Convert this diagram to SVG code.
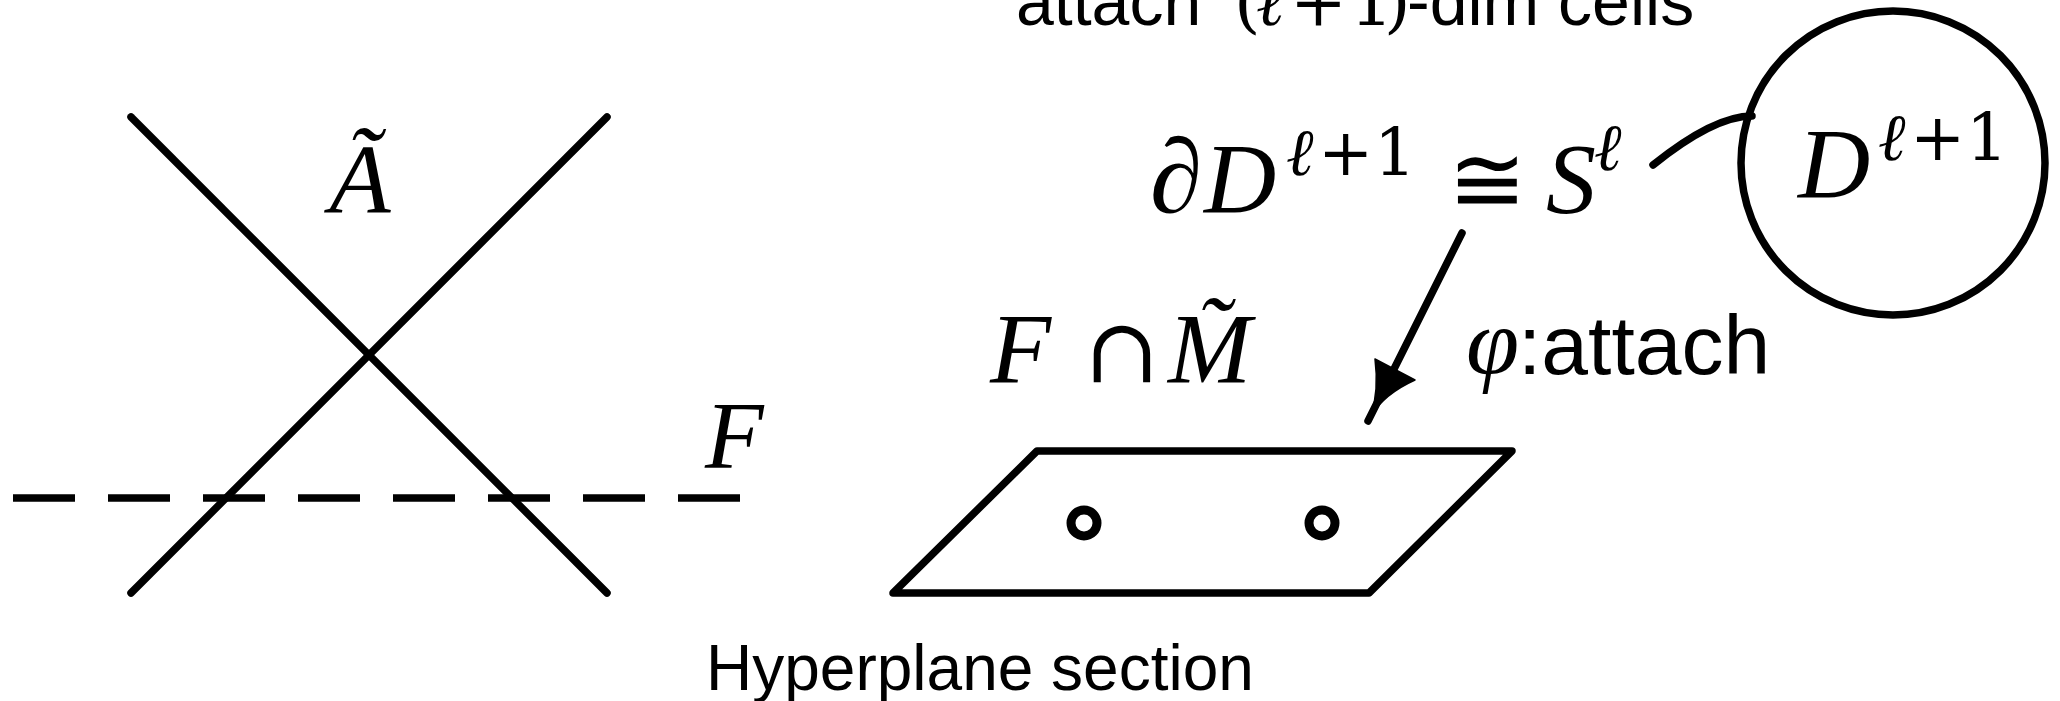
<svg xmlns="http://www.w3.org/2000/svg" width="2060" height="701" viewBox="0 0 2060 701">
<style>
.ln{stroke:#000;stroke-width:7.5;fill:none;stroke-linecap:round;stroke-linejoin:round}
.m{font-family:"Liberation Serif","DejaVu Serif",serif;font-style:italic;fill:#000}
.r{font-family:"DejaVu Serif","Liberation Serif",serif;font-style:normal;fill:#000}
.s{font-family:"Liberation Sans","DejaVu Sans",sans-serif;fill:#000}
.hole{fill:none;stroke:#000;stroke-width:9}
</style>
<rect width="2060" height="701" fill="#fff"/>
<g id="arrangement">
<line class="ln" x1="131" y1="117" x2="607" y2="593"/>
<line class="ln" x1="607" y1="117" x2="131" y2="593"/>
<text class="m" x="360" y="213" font-size="100" text-anchor="middle">Ã</text>
</g>
<g id="hyperplane-F">
<line x1="13" y1="498" x2="745" y2="498" stroke="#000" stroke-width="7.5" stroke-dasharray="62 33"/>
<text class="m" x="705" y="468" font-size="96">F</text>
</g>
<g id="section">
<polygon class="ln" points="1037,451 1512,451 1369,593 893,593"/>
<circle class="hole" cx="1084" cy="523" r="13"/>
<circle class="hole" cx="1322" cy="523" r="13"/>
<text font-size="100" y="382"><tspan class="m" x="990">F</tspan><tspan class="r" x="1084" font-size="90">∩</tspan><tspan class="m" x="1168">M̃</tspan></text>
<text class="s" x="706" y="690" font-size="64">Hyperplane section</text>
</g>
<g id="boundary-sphere">
<text font-size="100" y="212"><tspan class="m" x="1150" font-size="106">∂</tspan><tspan class="m" x="1204">D</tspan><tspan class="m" x="1286" y="175" font-size="66">ℓ</tspan><tspan class="r" x="1318" y="175" font-size="66">+</tspan><tspan class="r" x="1374" y="175" font-size="66">1</tspan><tspan class="r" x="1448" y="212" font-size="94">≅</tspan><tspan class="m" x="1546" y="212">S</tspan><tspan class="m" x="1594" y="170" font-size="66">ℓ</tspan></text>
</g>
<g id="disk">
<circle class="ln" cx="1893" cy="163" r="152"/>
<text font-size="100" y="197"><tspan class="m" x="1798">D</tspan><tspan class="m" x="1878" y="160" font-size="66">ℓ</tspan><tspan class="r" x="1910" y="160" font-size="66">+</tspan><tspan class="r" x="1966" y="160" font-size="66">1</tspan></text>
</g>
<g id="title">
<text font-size="68" y="25"><tspan class="s" x="1016">attach</tspan><tspan class="r" x="1234">(</tspan><tspan class="m" x="1256">ℓ</tspan><tspan class="r" x="1290">+</tspan><tspan class="r" x="1350">1</tspan><tspan class="r" x="1384">)</tspan><tspan class="s" x="1407">-dim cells</tspan></text>
</g>
<g id="connectors">
<path class="ln" d="M1653,165 Q1714,116 1752,116" stroke-linecap="butt" stroke-width="8"/>
<line class="ln" x1="1462" y1="233" x2="1368" y2="421"/>
<path d="M1375,359 L1415,380 Q1384,394 1371,416 Q1379,390 1375,359 Z" fill="#000" stroke="#000" stroke-width="1.5" stroke-linejoin="round"/>
<text font-size="96" y="374"><tspan class="m" x="1466">φ</tspan><tspan class="s" x="1518" font-size="84">:attach</tspan></text>
</g>
</svg>
